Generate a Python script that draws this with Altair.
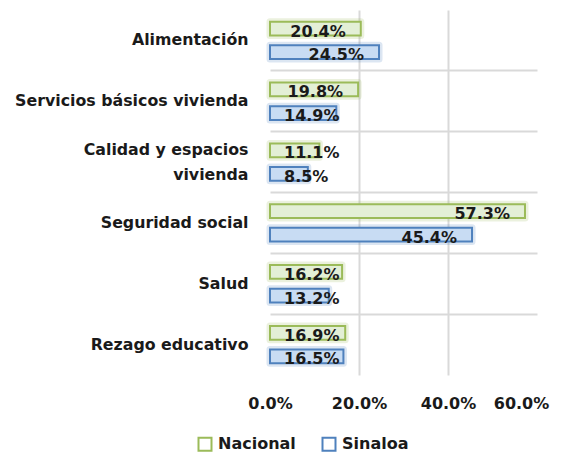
import altair as alt
import pandas as pd

categories = ["Alimentación", "Servicios básicos vivienda", "Calidad y espacios vivienda",
              "Seguridad social", "Salud", "Rezago educativo"]
series = ["Nacional", "Sinaloa"]
nacional = [0.204, 0.198, 0.111, 0.573, 0.162, 0.169]
sinaloa = [0.245, 0.149, 0.085, 0.454, 0.132, 0.165]
x_ticks = [0.0, 0.2, 0.4, 0.6]

rows = []
for c, n, s in zip(categories, nacional, sinaloa):
    rows.append({"categoria": c, "serie": "Nacional", "valor": n})
    rows.append({"categoria": c, "serie": "Sinaloa", "valor": s})
df = pd.DataFrame(rows)

FONT = "DejaVu Sans"
TXT = "#1a1a1a"
fills = ["#e3efd6", "#c8dcf3"]
strokes = ["#9bbb59", "#4f81bd"]

NB = "\u00a0"
two_line = "Calidad y espacios vivienda"
label_expr = ("datum.value == '" + two_line + "' ? "
              "['Calidad y espacios', 'vivienda" + NB * 8 + "'] : datum.value")

y_axis = alt.Axis(title=None, labelFont=FONT, labelFontWeight="bold",
                  labelFontSize=15.8, labelColor=TXT, labelPadding=22, labelLimit=400,
                  ticks=False, domain=False, labelExpr=label_expr,
                  labelLineHeight=25,
                  labelOffset={"condition": {"test": "datum.value == '" + two_line + "'", "value": -12.5}, "value": 0},
                  grid=True, gridColor="#d9d9d9", gridWidth=2,
                  bandPosition=0,
                  gridOpacity={"condition": {"test": "datum.value == 'Alimentación'", "value": 0}, "value": 1})
x_axis = alt.Axis(title=None, values=x_ticks, format=".1%", labelFont=FONT,
                  labelFontWeight="bold", labelFontSize=16, labelColor=TXT,
                  labelPadding=20, ticks=False, domain=False, labelFlush=False,
                  labelOffset={"condition": {"test": "datum.value > 0.59", "value": -16}, "value": 0},
                  grid=True, gridColor="#d9d9d9", gridWidth=2,
                  gridOpacity={"condition": {"test": "datum.value < 0.01 || datum.value > 0.59", "value": 0}, "value": 1})

y_scale = alt.Scale(paddingInner=0, paddingOuter=0)
x_scale = alt.Scale(domain=[0, 0.6], nice=False)

y_enc = alt.Y("categoria:N", sort=categories, scale=y_scale, axis=y_axis)
y_plain = alt.Y("categoria:N", sort=categories)
yoff = alt.YOffset("serie:N", sort=series,
                   scale=alt.Scale(paddingInner=0.42, paddingOuter=0.5))
x_enc = alt.X("valor:Q", scale=x_scale, axis=x_axis)
x_plain = alt.X("valor:Q")

base = alt.Chart(df)

glow = base.mark_bar(fillOpacity=0, strokeWidth=7, strokeOpacity=0.2, strokeJoin="round").encode(
    x=x_enc, y=y_enc, yOffset=yoff,
    stroke=alt.Stroke("serie:N", sort=series, scale=alt.Scale(domain=series, range=strokes), legend=None),
)

bars = base.mark_bar(strokeWidth=2).encode(
    x=x_plain, y=y_plain, yOffset=yoff,
    fill=alt.Fill("serie:N", sort=series, scale=alt.Scale(domain=series, range=fills), legend=None),
    stroke=alt.Stroke("serie:N", sort=series, scale=alt.Scale(domain=series, range=strokes),
                      legend=alt.Legend(title=None, orient="none", legendX=-73, legendY=426,
                                        direction="horizontal", symbolType="square",
                                        symbolSize=169, symbolFillColor="white", symbolStrokeWidth=2,
                                        labelFont=FONT, labelFontWeight="bold", labelFontSize=16,
                                        labelColor=TXT, columnPadding=22, labelOffset=5, padding=0)),
)

text_big = base.transform_filter("datum.valor >= 0.19").mark_text(
    align="right", baseline="middle", dx=-15, dy=3, font=FONT, fontWeight="bold",
    fontSize=16, color=TXT).encode(
    x=x_plain, y=y_plain, yOffset=yoff,
    text=alt.Text("valor:Q", format=".1%"))

text_small = base.transform_filter("datum.valor < 0.19").mark_text(
    align="left", baseline="middle", dx=14, dy=3, font=FONT, fontWeight="bold",
    fontSize=16, color=TXT).encode(
    x=alt.datum(0), y=y_plain, yOffset=yoff,
    text=alt.Text("valor:Q", format=".1%"))

chart = alt.layer(glow, bars, text_big, text_small).resolve_scale(
    stroke="independent"
).properties(
    width=267, height=365,
    autosize=alt.AutoSizeParams(type="none"),
    padding={"left": 262, "top": 2, "right": 14, "bottom": 80},
    background="white",
).configure_view(stroke=None)

chart.save("out.html", embed_options={"renderer": "svg", "actions": False})
